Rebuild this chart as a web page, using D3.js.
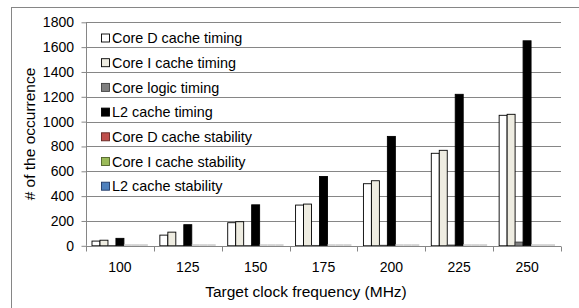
<!DOCTYPE html>
<html lang="en">
<head>
<meta charset="utf-8">
<title>Failure occurrences by clock frequency</title>
<script src="https://d3js.org/d3.v7.min.js"></script>
<style>
  body { margin: 0; background: #fff; }
  svg { display: block; font-family: "Liberation Sans", Arial, sans-serif; }
  .grid line { stroke: #868686; stroke-width: 1; }
  .axis path, .axis line { stroke: #868686; }
  .axis text { font-size: 14px; fill: #000; }
  .legend text { font-size: 14.4px; fill: #000; }
</style>
</head>
<body>
<svg id="chart" width="579" height="308"></svg>
<script>
// data
const frequencies = ["100", "125", "150", "175", "200", "225", "250"];
const seriesNames = [
  "Core D cache timing", "Core I cache timing", "Core logic timing", "L2 cache timing",
  "Core D cache stability", "Core I cache stability", "L2 cache stability"
];
const coreDTiming  = [38, 86, 186, 328, 500, 745, 1051];
const coreITiming  = [45, 110, 194, 336, 524, 769, 1059];
const logicTiming  = [2, 2, 2, 3, 4, 6, 30];
const l2Timing     = [60, 170, 330, 558, 881, 1220, 1651];
const coreDStab    = [0, 0, 0, 0, 0, 0, 0];
const coreIStab    = [0, 0, 0, 0, 0, 0, 0];
const l2Stab       = [0, 0, 0, 0, 0, 0, 0];
const yTicks = [0, 200, 400, 600, 800, 1000, 1200, 1400, 1600, 1800];

const allSeries = [coreDTiming, coreITiming, logicTiming, l2Timing, coreDStab, coreIStab, l2Stab];
const fills   = ["#ffffff", "#eeece1", "#7f7f7f", "#000000", "#c0504d", "#9bbb59", "#4f81bd"];
const strokes = ["#000000", "#000000", "#404040", "#000000", "#632523", "#4f6228", "#1f3864"];

const svg = d3.select("#chart");

// outer frame (runs off the right and bottom edge)
svg.append("rect")
  .attr("x", 11.5).attr("y", 7.5)
  .attr("width", 600).attr("height", 320)
  .attr("fill", "none").attr("stroke", "#868686");

const plot = { left: 86, right: 561, top: 22.3, bottom: 245.8 };

const x0 = d3.scaleBand().domain(frequencies).range([plot.left, plot.right]);
const x1 = d3.scaleBand().domain(seriesNames)
  .range([6, x0.bandwidth() - 6]);
const y = d3.scaleLinear().domain([0, 1800]).range([plot.bottom, plot.top]);

// gridlines
svg.append("g").attr("class", "grid")
  .selectAll("line")
  .data(yTicks.filter(d => d > 0))
  .join("line")
  .attr("x1", plot.left).attr("x2", plot.right)
  .attr("y1", d => Math.round(y(d)) + 0.5)
  .attr("y2", d => Math.round(y(d)) + 0.5);

// bars
const rows = [];
frequencies.forEach((f, i) => {
  seriesNames.forEach((s, j) => {
    rows.push({ f, s, j, v: allSeries[j][i] });
  });
});

svg.append("g")
  .selectAll("rect")
  .data(rows)
  .join("rect")
  .attr("x", d => x0(d.f) + x1(d.s))
  .attr("width", x1.bandwidth())
  .attr("y", d => d.v > 0 ? y(d.v) : plot.bottom - 1.5)
  .attr("height", d => d.v > 0 ? plot.bottom - y(d.v) : 1.5)
  .attr("fill", d => d.v > 0 ? fills[d.j] : "#c8c8c8")
  .attr("stroke", d => d.v > 0 ? strokes[d.j] : "none")
  .attr("stroke-width", 0.9);

// y axis
const yAxis = svg.append("g").attr("class", "axis")
  .attr("transform", `translate(${plot.left},0)`)
  .call(d3.axisLeft(y).tickValues(yTicks).tickFormat(d3.format("d"))
    .tickSize(5).tickSizeOuter(0).tickPadding(7));
yAxis.select(".domain").attr("d", `M0.5,${plot.top}V${plot.bottom}`);
yAxis.selectAll(".tick line").attr("transform", "translate(0.5,0)");

// x axis with ticks at category boundaries
const xAxis = svg.append("g").attr("class", "axis")
  .attr("transform", `translate(0,${Math.round(plot.bottom) + 0.5})`);
xAxis.append("path")
  .attr("d", `M${plot.left},0H${plot.right}`)
  .attr("stroke", "#868686");
xAxis.selectAll(".bound")
  .data(frequencies.concat(["end"]))
  .join("line")
  .attr("x1", (d, i) => Math.round(plot.left + i * x0.step()) + 0.5)
  .attr("x2", (d, i) => Math.round(plot.left + i * x0.step()) + 0.5)
  .attr("y1", 0).attr("y2", 5)
  .attr("stroke", "#868686");
xAxis.selectAll("text")
  .data(frequencies)
  .join("text")
  .attr("x", d => x0(d) + x0.bandwidth() / 2)
  .attr("y", 25)
  .attr("text-anchor", "middle")
  .text(d => d);

// axis titles
svg.append("text")
  .attr("x", 306).attr("y", 296.5)
  .attr("text-anchor", "middle")
  .attr("font-size", 15.5)
  .text("Target clock frequency (MHz)");

svg.append("text")
  .attr("transform", "translate(34.5,134) rotate(-90)")
  .attr("text-anchor", "middle")
  .attr("font-size", 15.5)
  .text("# of the occurrence");

// legend
const legend = svg.append("g").attr("class", "legend")
  .attr("transform", "translate(101,38)");
const item = legend.selectAll("g")
  .data(seriesNames)
  .join("g")
  .attr("transform", (d, i) => `translate(0,${i * 24.7})`);
item.append("rect")
  .attr("x", 0.5).attr("y", -4)
  .attr("width", 8).attr("height", 8)
  .attr("fill", (d, i) => fills[i])
  .attr("stroke", (d, i) => strokes[i])
  .attr("stroke-width", 0.9);
item.append("text")
  .attr("x", 11).attr("y", 5.2)
  .text(d => d);
</script>
</body>
</html>
